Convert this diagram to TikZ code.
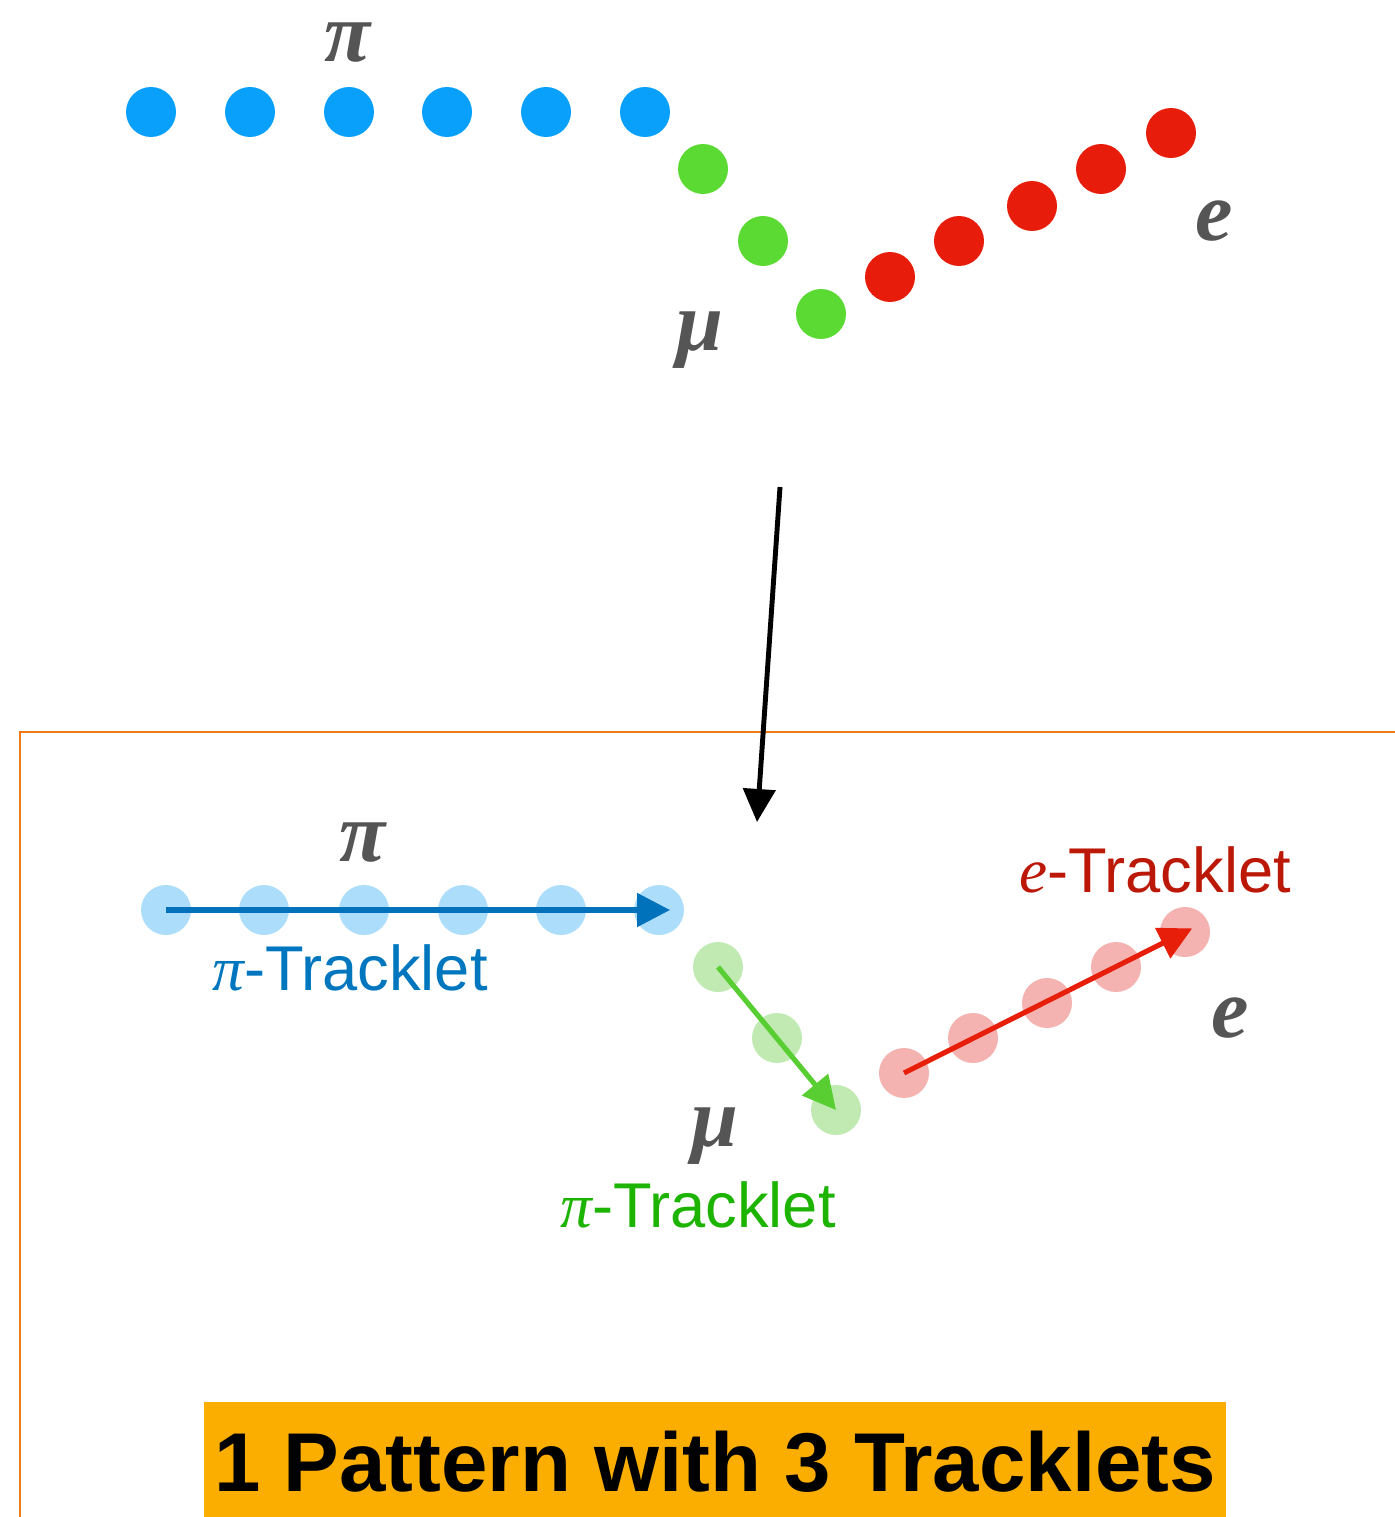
\documentclass[tikz,border=0pt]{standalone}
\usepackage{fontspec}
\setmainfont{Liberation Sans}
\newfontfamily\serifit{Liberation Serif}
\usepackage{xcolor}
\usetikzlibrary{arrows.meta}
\definecolor{pidot}{RGB}{8,160,250}
\definecolor{mudot}{RGB}{90,218,50}
\definecolor{edot}{RGB}{232,28,10}
\definecolor{pilight}{RGB}{172,222,252}
\definecolor{mulight}{RGB}{192,234,178}
\definecolor{elight}{RGB}{244,178,176}
\definecolor{piarrow}{RGB}{0,114,188}
\definecolor{muarrow}{RGB}{88,206,50}
\definecolor{earrow}{RGB}{230,30,10}
\definecolor{pitext}{RGB}{0,118,190}
\definecolor{mutext}{RGB}{28,180,0}
\definecolor{etext}{RGB}{188,24,8}
\definecolor{labelgray}{RGB}{85,85,85}
\definecolor{frameorange}{RGB}{240,122,20}
\definecolor{bannerfill}{RGB}{252,174,0}
\newcommand{\trackfont}{\fontsize{36}{40}\selectfont}
\newcommand{\partfont}{\fontsize{48}{52}\selectfont\serifit\bfseries\itshape}
\tikzset{
    hit/.style={
        circle,
        inner sep=0pt,
        minimum size=1cm
    },
    partname/.style={
        text=labelgray,
        font=\partfont,
        inner sep=0pt
    },
    trackname/.style={
        font=\trackfont,
        inner sep=0pt,
        anchor=base
    },
    tracklet/.style={
        -{Triangle[length=0.66cm, width=0.66cm]},
        line width=2.9pt
    }
}

\begin{document}
\begin{tikzpicture}[x=0.02cm, y=-0.02cm]
\useasboundingbox (0,0) rectangle (1395,1517);

% raw hits
\foreach \x [count=\i] in {151,250,349,447,546,645}
    \node[hit, fill=pidot] (pi\i) at (\x,112) {};
\foreach \x/\y [count=\i] in {703/169,763/241,821/314}
    \node[hit, fill=mudot] (mu\i) at (\x,\y) {};
\foreach \x/\y [count=\i] in {890/277,959/241,1032/206,1101/169,1171/133}
    \node[hit, fill=edot] (e\i) at (\x,\y) {};
\node[partname] (pi-top) at (348,43) {π};
\node[partname] (mu-top) at (700,340) {μ};
\node[partname] (e-top) at (1214,221) {e};

% pattern frame
\draw[frameorange, line width=1.2pt] (20,1517) |- (1395,732);

% reconstruction
\coordinate (arrow-start) at (780,487);
\coordinate (arrow-end) at (757,822);
\draw[-{Triangle[length=0.66cm, width=0.64cm]}, line width=2.8pt] (arrow-start) -- (arrow-end);

% tracklet hits
\foreach \x [count=\i] in {166,264,364,463,561,659}
    \node[hit, fill=pilight] (pib\i) at (\x,910) {};
\foreach \x/\y [count=\i] in {718/967,777/1038,836/1110}
    \node[hit, fill=mulight] (mub\i) at (\x,\y) {};
\foreach \x/\y [count=\i] in {904/1073,973/1038,1047/1003,1116/967,1185/932}
    \node[hit, fill=elight] (eb\i) at (\x,\y) {};
\node[partname] (pi-bot) at (363,843) {π};
\node[partname] (mu-bot) at (715,1136) {μ};
\node[partname] (e-bot) at (1230,1018) {e};

\draw[tracklet, piarrow, shorten >=-0.22cm] (pib1.center) -- (pib6.center);
\draw[tracklet, muarrow] (mub1.center) -- (mub3.center);
\draw[tracklet, earrow, shorten >=-0.16cm] (eb1.center) -- (eb5.center);

\node[trackname, text=pitext] (pi-name) at (350,990) {{\serifit\itshape π}-Tracklet};
\node[trackname, text=mutext] (mu-name) at (698,1227) {{\serifit\itshape π}-Tracklet};
\node[trackname, text=etext] (e-name) at (1155,892) {{\serifit\itshape e}-Tracklet};

% caption
\node[fill=bannerfill, minimum width=20.44cm, minimum height=2.4cm, font=\fontsize{47.5}{52}\selectfont\bfseries] (banner) at (715,1462) {1 Pattern with 3 Tracklets};
\end{tikzpicture}
\end{document}
